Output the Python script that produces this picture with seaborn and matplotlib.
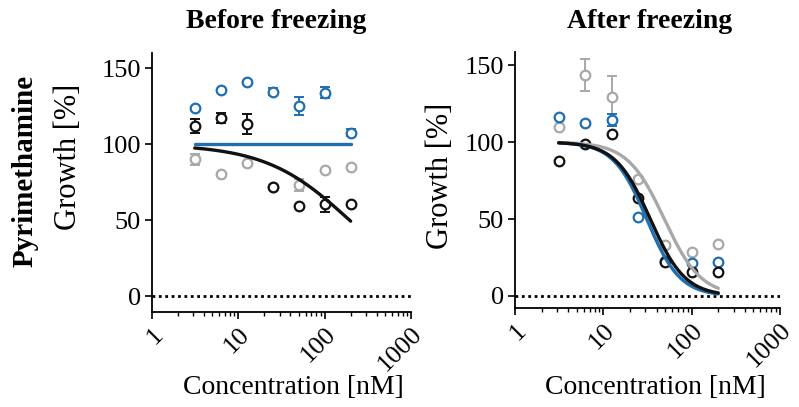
import numpy as np
import pandas as pd
import matplotlib
matplotlib.use("Agg")
import matplotlib.pyplot as plt
from matplotlib.ticker import LogLocator, FixedLocator, FixedFormatter, NullFormatter
import seaborn as sns

# ---------------- data ----------------
conc = [3.125, 6.25, 12.5, 25, 50, 100, 200]

# Before freezing
before_blue = [124, 135.5, 141, 134.5, 125, 134, 107.5]
before_blue_err = [0, 0, 0, 2.2, 5.8, 3.4, 2.4]
before_black = [112, 117, 113.6, 72, 59.4, 60.5, 60.5]
before_black_err = [4.6, 3.3, 6.6, 0, 0, 5, 0]
before_grey = [90, 80.3, 87.7, 72, 73, 83, 85]
before_grey_err = [3.6, 0, 0, 0, 4, 0, 0]

# After freezing
after_blue = [116, 112.3, 114.5, 51, 23, 21.3, 22]
after_blue_err = [0, 0, 4, 0, 0, 0, 0]
after_black = [87.5, 98.7, 105, 63.4, 22, 15.8, 15.8]
after_black_err = [0, 0, 0, 0, 0, 0, 0]
after_grey = [110, 143.6, 129.4, 76, 33, 28.5, 33.8]
after_grey_err = [0, 10.6, 13.7, 0, 0, 0, 0]

# dose-response fit parameters: top, bottom, IC50 [nM], hill slope
before_fit_blue = [100, 100, 100, 1.0]
before_fit_black = [100, 0, 195, 0.89]
after_fit_blue = [100, 0, 31, 2.3]
after_fit_black = [100, 0, 34, 2.2]
after_fit_grey = [100, 0, 49, 2.09]

xticks = [1, 10, 100, 1000]
xtick_labels = ["1", "10", "100", "1000"]
yticks = [0, 50, 100, 150]
ytick_labels = ["0", "50", "100", "150"]

titles = ["Before freezing", "After freezing"]
row_label = "Pyrimethamine"
ylabel = "Growth [%]"
xlabel = "Concentration [nM]"

BLUE = "#1f6eb0"
GREY = "#a8a8a8"
BLACK = "#111111"

# ---------------- style ----------------
sns.set_theme(style="ticks")
plt.rcParams["font.family"] = ["Liberation Serif", "DejaVu Serif"]
plt.rcParams["axes.linewidth"] = 1.3
for k in ("text.color", "axes.labelcolor", "xtick.color", "ytick.color", "axes.edgecolor"):
    plt.rcParams[k] = "black"

fig = plt.figure(figsize=(7.99, 4.07), dpi=100)
W, H = 799, 407


def axes_px(x0, x1, ytop, ybot):
    return fig.add_axes([x0 / W, 1 - ybot / H, (x1 - x0) / W, (ybot - ytop) / H])


ax1 = axes_px(152, 411, 53, 312)
ax2 = axes_px(515, 780, 52, 308)


def curve(params):
    top, bottom, ic50, hill = params
    xs = np.geomspace(conc[0], conc[-1], 200)
    ys = bottom + (top - bottom) / (1 + (xs / ic50) ** hill)
    return pd.DataFrame({"x": xs, "y": ys})


def draw_points(ax, vals, errs, color):
    df = pd.DataFrame({"x": conc, "y": vals, "e": errs})
    sub = df[df["e"] > 0]
    if len(sub):
        ax.errorbar(sub["x"], sub["y"], yerr=sub["e"], fmt="none", ecolor=color,
                    elinewidth=1.4, capsize=3.5, capthick=1.4, zorder=3)
    sns.scatterplot(data=df, x="x", y="y", ax=ax, marker="o", s=48,
                    facecolor="white", edgecolor=color, linewidth=1.6,
                    zorder=4, legend=False)


def draw_curve(ax, params, color, z):
    sns.lineplot(data=curve(params), x="x", y="y", ax=ax, color=color,
                 linewidth=2.4, zorder=z, legend=False)


# Before
draw_points(ax1, before_grey, before_grey_err, GREY)
draw_points(ax1, before_blue, before_blue_err, BLUE)
draw_points(ax1, before_black, before_black_err, BLACK)
draw_curve(ax1, before_fit_black, BLACK, 5)
draw_curve(ax1, before_fit_blue, BLUE, 5)

# After
draw_points(ax2, after_grey, after_grey_err, GREY)
draw_points(ax2, after_blue, after_blue_err, BLUE)
draw_points(ax2, after_black, after_black_err, BLACK)
draw_curve(ax2, after_fit_grey, GREY, 5)
draw_curve(ax2, after_fit_blue, BLUE, 5)
draw_curve(ax2, after_fit_black, BLACK, 6)

for ax, ylim in ((ax1, (-10.3, 160)), (ax2, (-7.8, 158.5))):
    ax.set_xscale("log")
    ax.set_xlim(1, 1000)
    ax.set_ylim(*ylim)
    ax.axhline(0, color="black", linestyle=(0, (1, 1.3)), linewidth=2.0, zorder=2)
    sns.despine(ax=ax)
    ax.xaxis.set_major_locator(FixedLocator(xticks))
    ax.xaxis.set_major_formatter(FixedFormatter(xtick_labels))
    ax.xaxis.set_minor_locator(LogLocator(base=10, subs=np.arange(2, 10)))
    ax.xaxis.set_minor_formatter(NullFormatter())
    ax.yaxis.set_major_locator(FixedLocator(yticks))
    ax.yaxis.set_major_formatter(FixedFormatter(ytick_labels))
    ax.tick_params(axis="both", which="major", direction="out", length=5, width=1.2,
                   labelsize=19, colors="black", pad=3)
    ax.tick_params(axis="x", which="minor", direction="out", length=3, width=1.0)
    for lab in ax.get_xticklabels():
        lab.set_rotation(45)
        lab.set_ha("right")
        lab.set_va("top")
        lab.set_rotation_mode("anchor")
    ax.set_xlabel(xlabel, fontsize=20)
    ax.set_ylabel(ylabel, fontsize=22)

ax1.xaxis.set_label_coords((293 - 152) / 259, (312 - 375) / 259)
ax2.xaxis.set_label_coords((655 - 515) / 265, (308 - 375) / 256)
ax1.yaxis.set_label_coords((83 - 152) / 259, (312 - 157) / 259)
ax2.yaxis.set_label_coords((455 - 515) / 265, (308 - 176) / 256)

fig.text(276.5 / W, 1 - 22 / H, titles[0], ha="center", va="center",
         fontsize=20, fontweight="bold")
fig.text(650 / W, 1 - 22 / H, titles[1], ha="center", va="center",
         fontsize=20, fontweight="bold")
fig.text(25 / W, 1 - 171 / H, row_label, ha="center", va="center", rotation=90,
         fontsize=21, fontweight="bold")

fig.savefig("out.png", dpi=100, facecolor="white")
